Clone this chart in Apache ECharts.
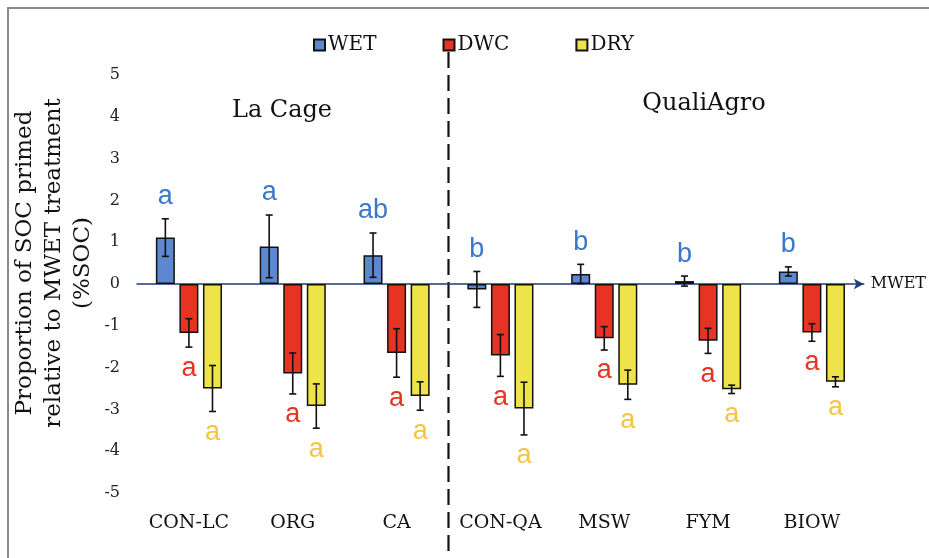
<!DOCTYPE html>
<html>
<head>
<meta charset="utf-8">
<script src="https://cdn.jsdelivr.net/npm/echarts@6/dist/echarts.min.js"></script>
<style>
  html, body { margin: 0; padding: 0; background: #fff; }
  #chart { width: 929px; height: 558px; }
</style>
</head>
<body>
<div id="chart"></div>
<script>
// ---- data ----
const categories = ['CON-LC', 'ORG', 'CA', 'CON-QA', 'MSW', 'FYM', 'BIOW'];
const seriesNames = ['WET', 'DWC', 'DRY'];
const wet    = [1.11, 0.90, 0.69, -0.13, 0.24, 0.07, 0.30];
const wetErr = [0.45, 0.75, 0.53, 0.43, 0.23, 0.12, 0.11];
const dwc    = [-1.17, -2.14, -1.65, -1.71, -1.30, -1.36, -1.16];
const dwcErr = [0.34, 0.49, 0.58, 0.50, 0.28, 0.30, 0.21];
const dry    = [-2.50, -2.92, -2.68, -2.98, -2.41, -2.52, -2.34];
const dryErr = [0.55, 0.53, 0.34, 0.63, 0.35, 0.10, 0.12];
const wetLetters = ['a', 'a', 'ab', 'b', 'b', 'b', 'b'];
const dwcLetters = ['a', 'a', 'a', 'a', 'a', 'a', 'a'];
const dryLetters = ['a', 'a', 'a', 'a', 'a', 'a', 'a'];
const yTicks = [-5, -4, -3, -2, -1, 0, 1, 2, 3, 4, 5];
const siteNames = ['La Cage', 'QualiAgro'];
const yTitle = ['Proportion of SOC primed', 'relative to MWET treatment', '(%SOC)'];
const baselineName = 'MWET';

// ---- styles ----
const SERIF = '"DejaVu Serif", "Liberation Serif", serif';
const barColors = ['#5D88CF', '#E63323', '#EFE34A'];
const letterColors = ['#3B78C9', '#E63323', '#F6C443'];
const BAR_W = 19;
const BAR_GAP = 0.24;

const means = [wet, dwc, dry];
const errs = [wetErr, dwcErr, dryErr];
const letters = [wetLetters, dwcLetters, dryLetters];

const chart = echarts.init(document.getElementById('chart'));

function errRenderer(k) {
  return function (params, api) {
    const idx = api.value(0);
    const m = api.value(1);
    const e = api.value(2);
    const off = (k - 1) * BAR_W * (1 + BAR_GAP);
    const cx = api.coord([idx, m])[0] + off;
    const yTop = api.coord([idx, m + e])[1];
    const yBot = api.coord([idx, m - e])[1];
    const cap = 3.5;
    const ls = { stroke: '#111', lineWidth: 1.6 };
    const above = (k === 0);
    const letter = letters[k][params.dataIndex];
    return {
      type: 'group',
      children: [
        { type: 'line', shape: { x1: cx, y1: yTop, x2: cx, y2: yBot }, style: ls },
        { type: 'line', shape: { x1: cx - cap, y1: yTop, x2: cx + cap, y2: yTop }, style: ls },
        { type: 'line', shape: { x1: cx - cap, y1: yBot, x2: cx + cap, y2: yBot }, style: ls },
        {
          type: 'text',
          style: {
            x: cx, y: above ? yTop - 22 : yBot + 21,
            text: letter,
            fill: letterColors[k],
            font: '27px "Liberation Sans", Arial, sans-serif',
            align: 'center', verticalAlign: 'middle'
          }
        }
      ]
    };
  };
}

const barSeries = seriesNames.map((name, k) => ({
  name: name,
  type: 'bar',
  xAxisIndex: 0,
  data: means[k],
  barWidth: BAR_W,
  barGap: (BAR_GAP * 100) + '%',
  itemStyle: { color: barColors[k], borderColor: '#111', borderWidth: 1.5 },
  z: 2
}));

const errSeries = seriesNames.map((name, k) => ({
  name: name + '-err',
  type: 'custom',
  xAxisIndex: 0,
  renderItem: errRenderer(k),
  data: means[k].map((m, i) => [i, m, errs[k][i]]),
  z: 5,
  silent: true
}));

chart.setOption({
  animation: false,
  backgroundColor: '#fff',
  grid: { left: 137, right: 64, top: 75, bottom: 65, containLabel: false },
  legend: {
    data: seriesNames.map(n => ({ name: n, icon: 'rect' })),
    left: 313, top: 35, padding: 0,
    itemWidth: 11, itemHeight: 11, itemGap: 66,
    textStyle: { fontFamily: SERIF, fontSize: 20, color: '#111', padding: [0, 0, 0, -2] }
  },
  xAxis: [
    {
      type: 'category', data: categories,
      axisLine: { onZero: true, lineStyle: { color: '#1E3B7C', width: 1.5 },
                  symbol: ['none', 'arrow'], symbolSize: [8, 10] },
      axisTick: { show: false }, axisLabel: { show: false },
      name: baselineName, nameLocation: 'end', nameGap: 7,
      nameTextStyle: { fontFamily: SERIF, fontSize: 16, color: '#111' }
    },
    {
      type: 'category', data: categories, position: 'bottom',
      axisLine: { show: false, onZero: false }, axisTick: { show: false },
      axisLabel: { interval: 0, hideOverlap: false, fontFamily: SERIF, fontSize: 19, color: '#111', margin: 21 }
    }
  ],
  yAxis: {
    type: 'value', min: yTicks[0], max: yTicks[yTicks.length - 1], interval: 1,
    splitLine: { show: false }, axisLine: { show: false }, axisTick: { show: false },
    axisLabel: { fontFamily: SERIF, fontSize: 16, color: '#222', margin: 17 }
  },
  series: barSeries.concat(errSeries)
});

// decorations
const xa = chart.convertToPixel({ xAxisIndex: 0 }, categories[2]);
const xb = chart.convertToPixel({ xAxisIndex: 0 }, categories[3]);
const xSplit = (xa + xb) / 2;

chart.setOption({
  graphic: [
    { type: 'line', shape: { x1: 7, y1: 8, x2: 929, y2: 8 }, style: { stroke: '#8a8a8a', lineWidth: 2 } },
    { type: 'line', shape: { x1: 8, y1: 7, x2: 8, y2: 558 }, style: { stroke: '#8a8a8a', lineWidth: 2 } },
    { type: 'line', shape: { x1: xSplit, y1: 52, x2: xSplit, y2: 558 },
      style: { stroke: '#111', lineWidth: 2.2, lineDash: [16, 7] } },
    { type: 'text', x: 282, y: 111, style: { text: siteNames[0], font: '24px ' + SERIF, fill: '#111', align: 'center', verticalAlign: 'middle' } },
    { type: 'text', x: 704, y: 104, style: { text: siteNames[1], font: '24px ' + SERIF, fill: '#111', align: 'center', verticalAlign: 'middle' } },
    { type: 'text', x: 54, y: 263, rotation: Math.PI / 2,
      style: { text: yTitle.join('\n'), font: '23px ' + SERIF, fill: '#111', align: 'center', verticalAlign: 'middle', lineHeight: 29 } }
  ]
});
</script>
</body>
</html>
